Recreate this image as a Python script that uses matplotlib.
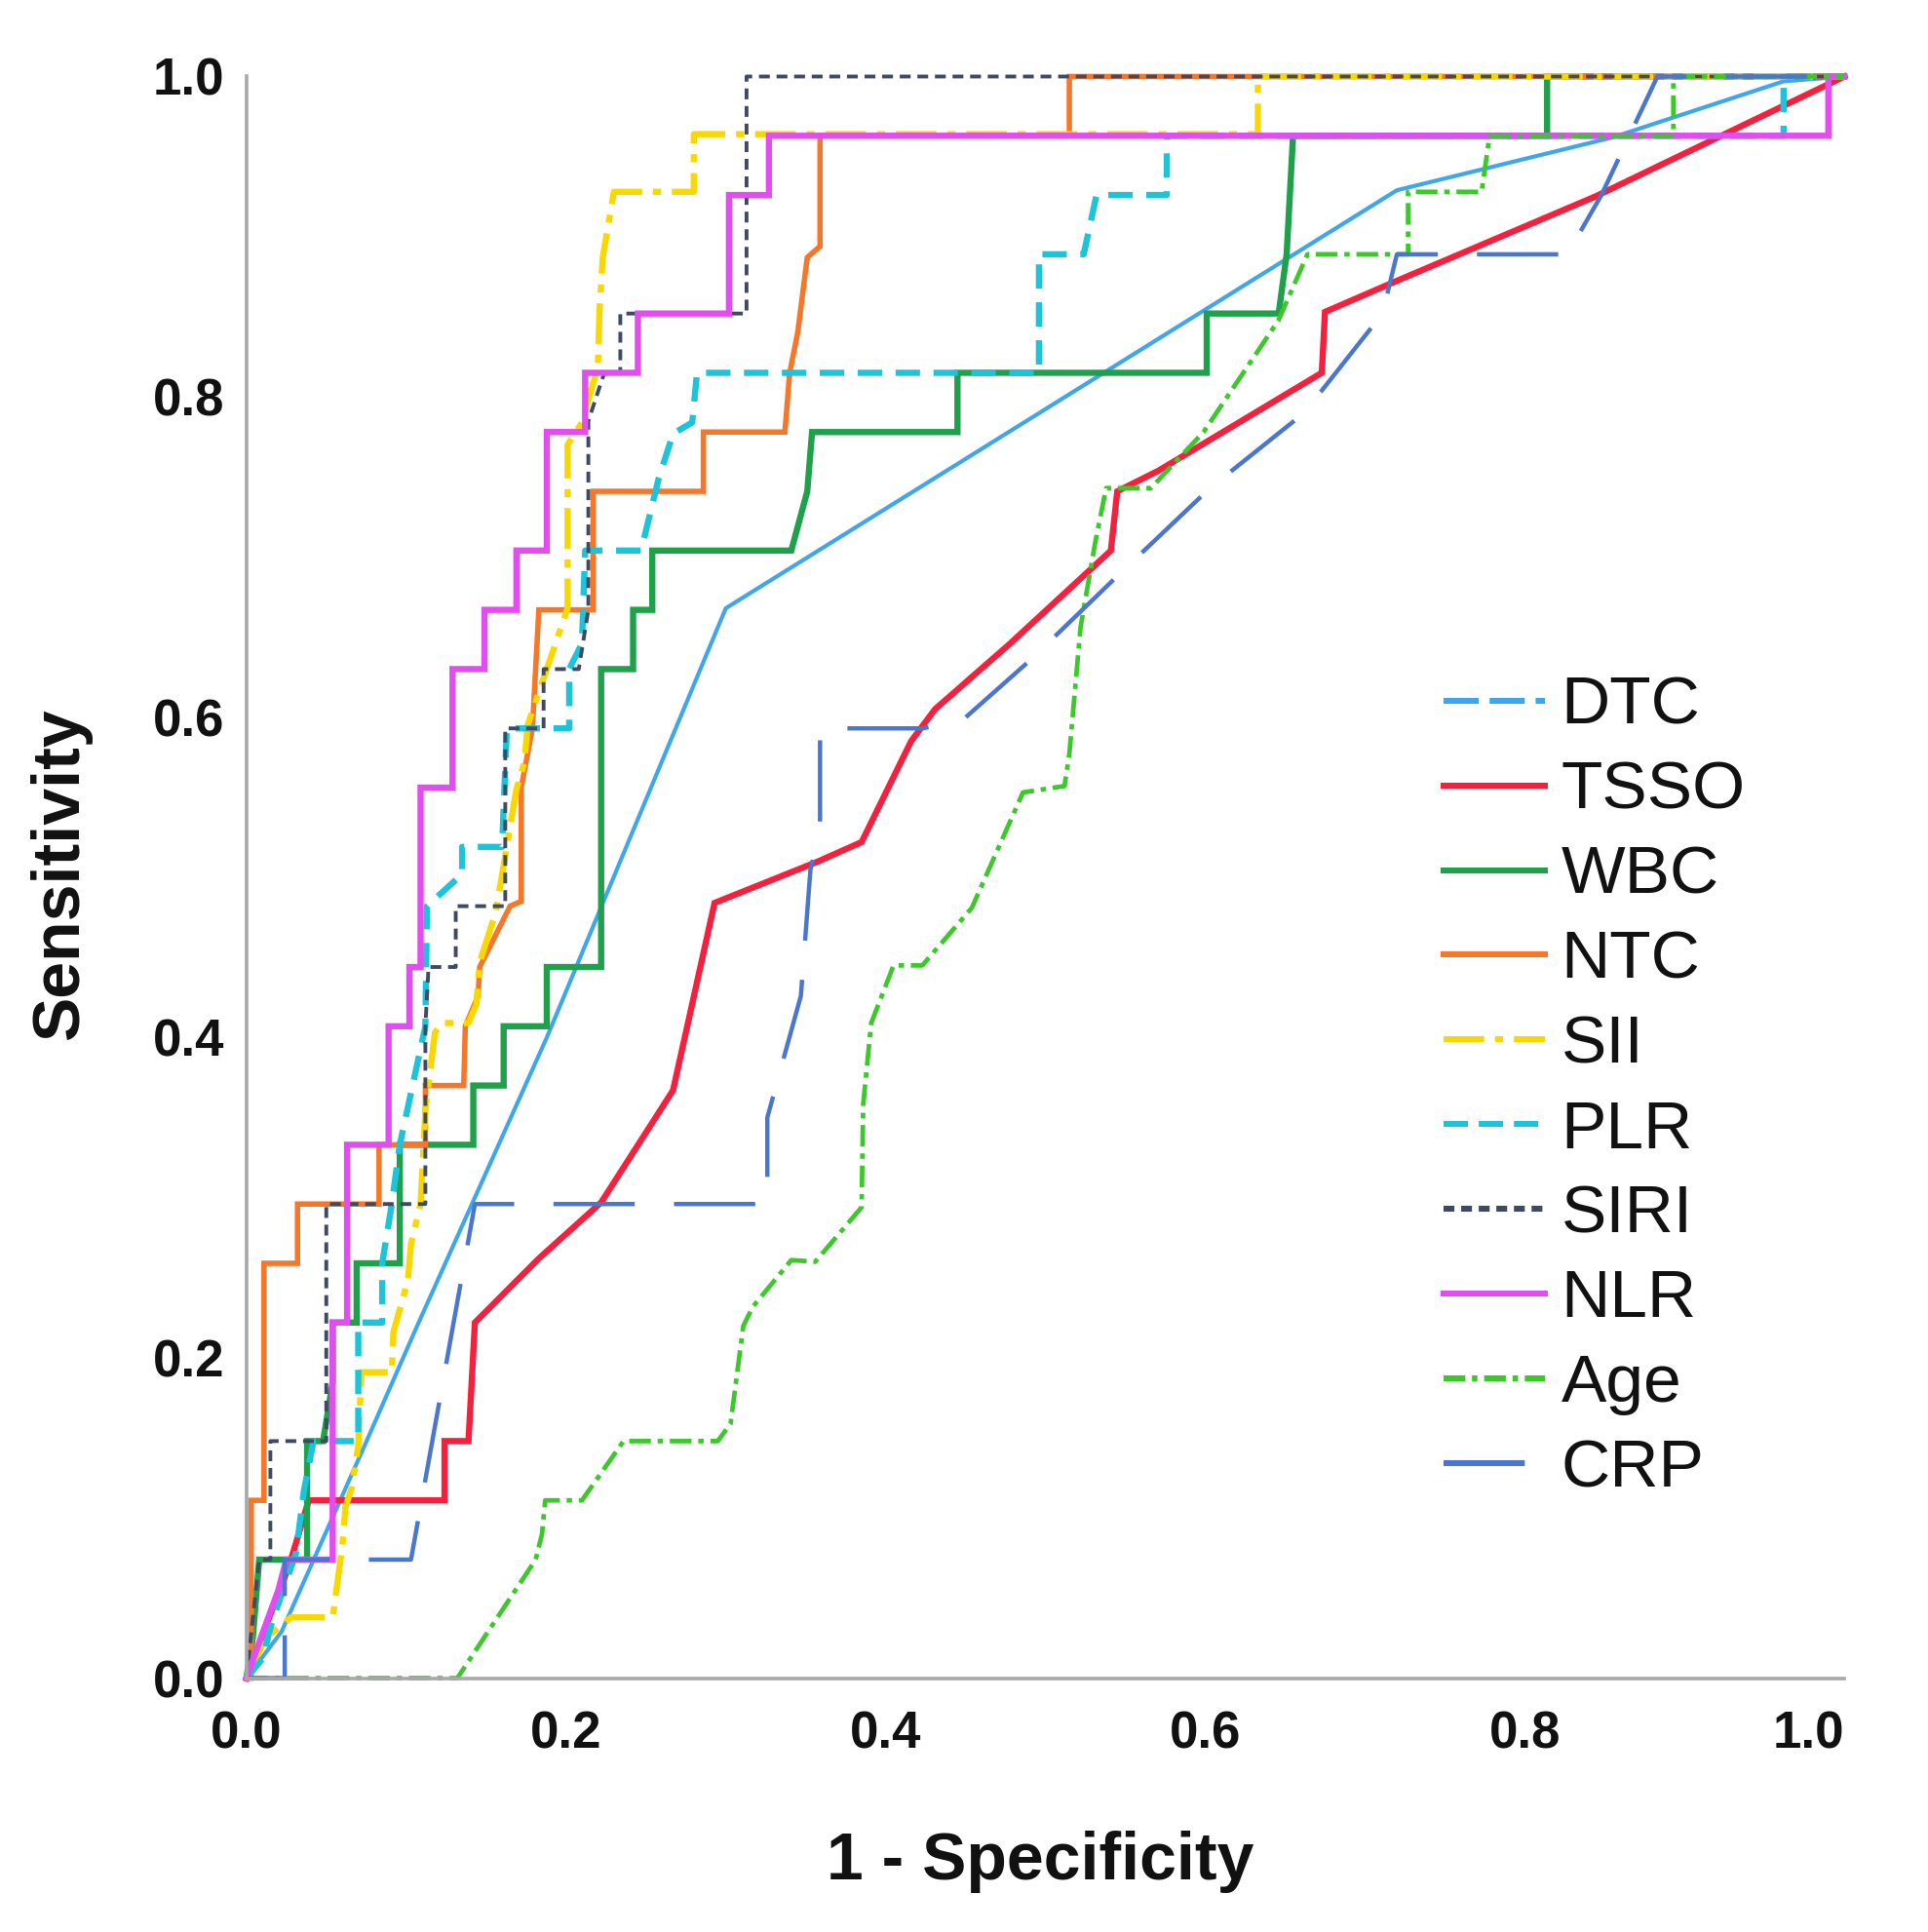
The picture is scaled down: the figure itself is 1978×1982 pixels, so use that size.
import matplotlib
matplotlib.use("Agg")
import matplotlib.pyplot as plt
from matplotlib.lines import Line2D

plt.rcParams.update({
    "font.family": ["Liberation Sans", "DejaVu Sans"],
    "lines.scale_dashes": False,
    "lines.solid_joinstyle": "miter",
})

# ROC curves: x = 1 - specificity, y = sensitivity
dtc_x = [0, 0.022, 0.073, 0.106, 0.188, 0.300, 0.720, 0.855, 0.962, 1.0]
dtc_y = [0, 0.029, 0.143, 0.218, 0.400, 0.668, 0.929, 0.962, 0.997, 1.0]

tsso_x = [0, 0.012, 0.027, 0.039, 0.124, 0.124, 0.139, 0.143, 0.183, 0.222, 0.267, 0.293,
          0.358, 0.385, 0.416, 0.431, 0.478, 0.541, 0.545, 0.571, 0.673, 0.675, 0.719, 0.844, 1.0]
tsso_y = [0, 0.032, 0.071, 0.111, 0.111, 0.148, 0.148, 0.222, 0.262, 0.297, 0.367, 0.484,
          0.510, 0.522, 0.585, 0.605, 0.646, 0.704, 0.741, 0.754, 0.815, 0.853, 0.872, 0.925, 1.0]

wbc_x = [0, 0.004, 0.008, 0.038, 0.038, 0.048, 0.054, 0.054, 0.069, 0.069,
         0.096, 0.096, 0.142, 0.142, 0.161, 0.161, 0.188, 0.188, 0.222, 0.222,
         0.242, 0.242, 0.254, 0.254, 0.341, 0.351, 0.354, 0.445, 0.445, 0.601,
         0.601, 0.646, 0.651, 0.653, 0.655, 0.814, 0.814, 1.0]
wbc_y = [0, 0.025, 0.074, 0.074, 0.148, 0.148, 0.185, 0.222, 0.222, 0.259,
         0.259, 0.333, 0.333, 0.370, 0.370, 0.407, 0.407, 0.444, 0.444, 0.630,
         0.630, 0.667, 0.667, 0.704, 0.704, 0.741, 0.778, 0.778, 0.815, 0.815,
         0.852, 0.852, 0.889, 0.926, 0.963, 0.963, 1.0, 1.0]

ntc_x = [0, 0.003, 0.003, 0.011, 0.011, 0.032, 0.032, 0.083, 0.083, 0.112,
         0.112, 0.136, 0.137, 0.145, 0.146, 0.165, 0.172, 0.172, 0.179, 0.183,
         0.217, 0.217, 0.286, 0.286, 0.337, 0.340, 0.345, 0.351, 0.359, 0.359,
         0.515, 0.515, 1.0]
ntc_y = [0, 0, 0.111, 0.111, 0.259, 0.259, 0.296, 0.296, 0.333, 0.333,
         0.370, 0.370, 0.407, 0.426, 0.444, 0.482, 0.485, 0.556, 0.593, 0.667,
         0.667, 0.741, 0.741, 0.778, 0.778, 0.815, 0.840, 0.887, 0.894, 0.963,
         0.963, 1.0, 1.0]

sii_x = [0, 0.012, 0.028, 0.054, 0.060, 0.062, 0.066, 0.070, 0.072, 0.091,
         0.092, 0.101, 0.103, 0.109, 0.112, 0.118, 0.122, 0.139, 0.144, 0.146,
         0.156, 0.169, 0.174, 0.176, 0.201, 0.201, 0.210, 0.220, 0.221, 0.223,
         0.230, 0.280, 0.280, 0.633, 0.633, 1.0]
sii_y = [0, 0.025, 0.038, 0.038, 0.082, 0.107, 0.119, 0.145, 0.191, 0.191,
         0.216, 0.248, 0.271, 0.296, 0.355, 0.403, 0.409, 0.409, 0.421, 0.447,
         0.478, 0.555, 0.572, 0.595, 0.668, 0.770, 0.784, 0.819, 0.854, 0.887,
         0.928, 0.928, 0.964, 0.964, 1.0, 1.0]

plr_x = [0, 0.010, 0.016, 0.031, 0.036, 0.042, 0.070, 0.070, 0.085, 0.085,
         0.091, 0.096, 0.104, 0.112, 0.113, 0.135, 0.135, 0.160, 0.163, 0.202,
         0.202, 0.210, 0.212, 0.247, 0.258, 0.267, 0.279, 0.282, 0.496, 0.496,
         0.524, 0.532, 0.576, 0.576, 0.962, 0.962, 1.0]
plr_y = [0, 0.012, 0.035, 0.078, 0.117, 0.148, 0.148, 0.222, 0.222, 0.259,
         0.296, 0.333, 0.370, 0.407, 0.482, 0.502, 0.519, 0.519, 0.593, 0.593,
         0.630, 0.646, 0.704, 0.704, 0.749, 0.777, 0.784, 0.815, 0.815, 0.889,
         0.889, 0.926, 0.926, 0.963, 0.963, 1.0, 1.0]

siri_x = [0, 0.004, 0.008, 0.015, 0.015, 0.050, 0.050, 0.112, 0.112, 0.114,
          0.131, 0.131, 0.162, 0.162, 0.186, 0.186, 0.208, 0.214, 0.214, 0.224,
          0.234, 0.234, 0.313, 0.313, 1.0]
siri_y = [0, 0.037, 0.074, 0.074, 0.148, 0.148, 0.296, 0.296, 0.407, 0.444,
          0.444, 0.482, 0.482, 0.593, 0.593, 0.630, 0.630, 0.667, 0.785, 0.815,
          0.815, 0.852, 0.852, 1.0, 1.0]

nlr_x = [0, 0.009, 0.020, 0.025, 0.054, 0.054, 0.063, 0.063, 0.089, 0.089,
         0.102, 0.102, 0.109, 0.109, 0.129, 0.129, 0.149, 0.149, 0.169, 0.169,
         0.188, 0.188, 0.212, 0.212, 0.245, 0.245, 0.302, 0.302, 0.327, 0.327,
         0.990, 0.990, 1.0]
nlr_y = [0, 0.025, 0.055, 0.074, 0.074, 0.222, 0.222, 0.333, 0.333, 0.407,
         0.407, 0.444, 0.444, 0.556, 0.556, 0.630, 0.630, 0.667, 0.667, 0.704,
         0.704, 0.778, 0.778, 0.815, 0.815, 0.852, 0.852, 0.926, 0.926, 0.963,
         0.963, 1.0, 1.0]

age_x = [0, 0.132, 0.181, 0.185, 0.187, 0.210, 0.236, 0.295, 0.303, 0.311,
         0.317, 0.341, 0.356, 0.385, 0.386, 0.391, 0.405, 0.423, 0.454, 0.470,
         0.486, 0.512, 0.515, 0.522, 0.531, 0.538, 0.566, 0.599, 0.646, 0.664,
         0.727, 0.727, 0.773, 0.778, 0.893, 0.893, 1.0]
age_y = [0, 0, 0.074, 0.090, 0.111, 0.111, 0.148, 0.148, 0.159, 0.220,
         0.232, 0.261, 0.260, 0.294, 0.358, 0.409, 0.445, 0.445, 0.481, 0.517,
         0.553, 0.557, 0.577, 0.656, 0.708, 0.743, 0.743, 0.778, 0.848, 0.889,
         0.889, 0.928, 0.928, 0.963, 0.963, 1.0, 1.0]

crp_x = [0, 0.024, 0.024, 0.103, 0.143, 0.326, 0.326, 0.347, 0.353, 0.359,
         0.359, 0.423, 0.448, 0.491, 0.547, 0.603, 0.662, 0.711, 0.720, 0.830,
         0.833, 0.848, 0.883, 1.0]
crp_y = [0, 0, 0.074, 0.074, 0.296, 0.296, 0.350, 0.426, 0.505, 0.529,
         0.593, 0.593, 0.598, 0.636, 0.690, 0.743, 0.790, 0.852, 0.889, 0.889,
         0.900, 0.926, 1.0, 1.0]

labels = ["DTC", "TSSO", "WBC", "NTC", "SII", "PLR", "SIRI", "NLR", "Age", "CRP"]
tick_vals = [0.0, 0.2, 0.4, 0.6, 0.8, 1.0]

# name: (x, y, color, width, dashes in plot, dashes in legend)
styles = {
    "DTC": (dtc_x, dtc_y, "#3ea6ea", 3.0, None, (26, 8)),
    "TSSO": (tsso_x, tsso_y, "#f5203e", 4.6, None, None),
    "WBC": (wbc_x, wbc_y, "#1fa04a", 4.6, None, None),
    "NTC": (ntc_x, ntc_y, "#f7772a", 4.0, None, None),
    "SII": (sii_x, sii_y, "#f8d800", 4.6, (30, 8, 6, 8), (30, 8, 6, 8)),
    "PLR": (plr_x, plr_y, "#1cc3d9", 4.6, (18, 10), (18, 8)),
    "SIRI": (siri_x, siri_y, "#3e4a63", 2.8, (8, 5), (8, 5)),
    "NLR": (nlr_x, nlr_y, "#e24df0", 4.6, None, None),
    "Age": (age_x, age_y, "#3cc82a", 3.4, (16, 5, 4, 5), (16, 5, 4, 5)),
    "CRP": (crp_x, crp_y, "#4a76d0", 3.2, (60, 29), (60, 29)),
}

fig = plt.figure(figsize=(19.78, 19.82), dpi=100)
ax = fig.add_axes([0.1278, 0.1314, 0.8288, 0.829])

handles = []
for name in labels:
    xs, ys, color, lw, dash, leg_dash = styles[name]
    line, = ax.plot(xs, ys, color=color, linewidth=lw, clip_on=False)
    if dash:
        line.set_dashes(dash)
    h = Line2D([], [], color=color, linewidth=4.4)
    if leg_dash:
        h.set_dashes(leg_dash)
    handles.append(h)

ax.set_xlim(0, 1)
ax.set_ylim(0, 1)
for side in ["top", "right"]:
    ax.spines[side].set_visible(False)
for side in ["left", "bottom"]:
    ax.spines[side].set_color("#a8a8a8")
    ax.spines[side].set_linewidth(2.6)

ax.set_xticks(tick_vals)
ax.set_yticks(tick_vals)
ax.set_xticklabels([f"{v:.1f}" for v in tick_vals])
ax.set_yticklabels([f"{v:.1f}" for v in tick_vals])
ax.tick_params(length=0, labelsize=38, colors="#111111")
ax.tick_params(axis="x", pad=24)
ax.tick_params(axis="y", pad=16)
for t in ax.get_xticklabels() + ax.get_yticklabels():
    t.set_fontweight("bold")
ax.get_xticklabels()[-1].set_horizontalalignment("right")

ax.set_xlabel("1 - Specificity", fontsize=49, fontweight="bold", color="#111111")
ax.set_ylabel("Sensitivity", fontsize=49, fontweight="bold", color="#111111")
ax.xaxis.set_label_coords(0.497, -0.095)
ax.yaxis.set_label_coords(-0.097, 0.502)

ax.legend(handles, labels, loc="upper left", bbox_to_anchor=(0.749, 0.626),
          frameon=False, fontsize=50, handlelength=1.5, handletextpad=0.24,
          labelspacing=0.33, borderaxespad=0, borderpad=0, labelcolor="#111111")

fig.savefig("out.png", dpi=100)
